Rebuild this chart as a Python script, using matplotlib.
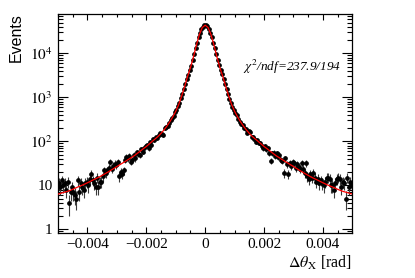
import numpy as np
import matplotlib
matplotlib.use('Agg')
import matplotlib.pyplot as plt
from matplotlib.ticker import MultipleLocator, FuncFormatter, LogLocator

plt.rcParams['font.family'] = ['Liberation Serif', 'DejaVu Serif']
plt.rcParams['mathtext.fontset'] = 'stix'

# histogram: 200 bins from -0.005 to 0.005 rad
edges = np.linspace(-0.005, 0.005, 201)
centers = (edges[:-1] + edges[1:]) / 2

counts_left = [11, 9, 13, 10, 11, 8, 12, 4, 7, 9,
               7, 6, 5, 13, 7, 11, 9, 8, 11, 12,
               10, 14, 18, 13, 11, 9, 15, 9, 12, 12,
               16, 22, 19, 22, 25, 34, 24, 28, 31, 29,
               33, 16, 20, 18, 22, 38, 44, 41, 47, 34,
               38, 49, 41, 56, 51, 49, 66, 58, 72, 79,
               82, 69, 95, 82, 112, 107, 124, 119, 141, 152,
               150, 139, 197, 215, 228, 256, 302, 341, 377, 452,
               511, 633, 742, 951, 1187, 1572, 1983, 2631, 3268, 4245,
               5271, 7052, 9548, 13087, 17412, 23105, 29387, 35620, 40380, 43150]
counts_right = [42900, 40610, 35390, 29620, 22890, 17560, 12940, 9655, 6968, 5322,
                4178, 3321, 2584, 2017, 1538, 1214, 921, 758, 611, 527,
                438, 392, 329, 281, 249, 240, 197, 186, 158, 171,
                162, 128, 127, 110, 98, 106, 90, 93, 80, 69,
                77, 66, 69, 53, 36, 53, 55, 46, 53, 44,
                49, 38, 36, 19, 41, 30, 18, 32, 27, 34,
                32, 25, 30, 26, 24, 32, 24, 19, 32, 16,
                14, 18, 15, 19, 15, 12, 14, 11, 13, 11,
                10, 12, 15, 15, 14, 10, 10, 8, 11, 14,
                15, 14, 9, 12, 11, 5, 15, 9, 12, 10]
counts = np.array(counts_left + counts_right, dtype=float)
errors = np.sqrt(counts)

# fitted curve sampled every 0.0001 rad
fit_x = np.linspace(-0.005, 0.005, 101)
fit_y = [6.3, 6.6, 6.9, 7.2, 7.6, 8.1, 8.7, 9.3, 9.9, 10.6,
         11.4, 12.3, 13.3, 14.3, 15.4, 16.8, 18.3, 20, 22, 24.2,
         26.7, 29.3, 32.2, 35.3, 39, 43, 47.5, 53.5, 60, 68,
         76, 87, 99.5, 113, 129, 151, 181, 221, 278, 360,
         480, 680, 1060, 1750, 2950, 4700, 8200, 15200, 26300, 38300,
         43500,
         38300, 26300, 15200, 8200, 4700, 2950, 1750, 1060, 680, 480,
         360, 278, 221, 181, 151, 129, 113, 99.5, 87, 76,
         68, 60, 53.5, 47.5, 43, 39, 35.3, 32.2, 29.3, 26.7,
         24.2, 22, 20, 18.3, 16.8, 15.4, 14.3, 13.3, 12.3, 11.4,
         10.6, 9.9, 9.3, 8.7, 8.1, 7.6, 7.2, 6.9, 6.6, 6.3]

fig = plt.figure(figsize=(4.15, 2.78), dpi=100)
ax = fig.add_axes([0.1398, 0.1608, 0.7092, 0.7888])

ax.errorbar(centers, counts, yerr=errors, fmt='o', ms=2.4, mfc='black', mec='black',
            ecolor='#3a3a3a', elinewidth=0.8, capsize=0, zorder=2)
ax.plot(fit_x, fit_y, color='red', lw=0.9, zorder=3)

ax.set_yscale('log')
ax.set_xlim(-0.005, 0.005)
ax.set_ylim(0.81, 78000)

ax.xaxis.set_major_locator(MultipleLocator(0.002))
ax.xaxis.set_minor_locator(MultipleLocator(0.0005))
ax.xaxis.set_major_formatter(FuncFormatter(
    lambda v, p: '0' if abs(v) < 1e-9 else ('%g' % v).replace('-', '\u2212')))
ax.yaxis.set_major_locator(LogLocator(base=10, numticks=10))
ax.yaxis.set_minor_locator(LogLocator(base=10, subs=np.arange(2, 10), numticks=20))


def yfmt(v, p):
    n = int(round(np.log10(v)))
    if n == 0:
        return '1'
    if n == 1:
        return '10'
    return r'$10^{%d}$' % n


ax.yaxis.set_major_formatter(FuncFormatter(yfmt))
ax.yaxis.set_minor_formatter(FuncFormatter(lambda v, p: ''))

ax.tick_params(which='both', direction='in', top=True, right=True, labelsize=11, width=0.8)
ax.tick_params(axis='x', which='major', length=4.5, pad=3.5)
ax.tick_params(axis='x', which='minor', length=2.5)
ax.tick_params(axis='y', which='major', length=7, pad=4)
ax.tick_params(axis='y', which='minor', length=3.5)
for s in ax.spines.values():
    s.set_linewidth(0.9)

ax.set_ylabel('Events', family='Liberation Sans', fontsize=11.5, loc='top')
ax.yaxis.set_label_coords(-0.115, 1.005)
ax.set_xlabel(r'$\Delta\theta_{\rm X}$ [rad]', fontsize=11.5, loc='right')
ax.xaxis.set_label_coords(1.0, -0.095)

ax.text(0.629, 0.76, r'$\chi^{2}$/ndf=237.9/194', transform=ax.transAxes,
        fontsize=9.5, style='italic', va='center', ha='left')

fig.savefig('out.png', dpi=100)
